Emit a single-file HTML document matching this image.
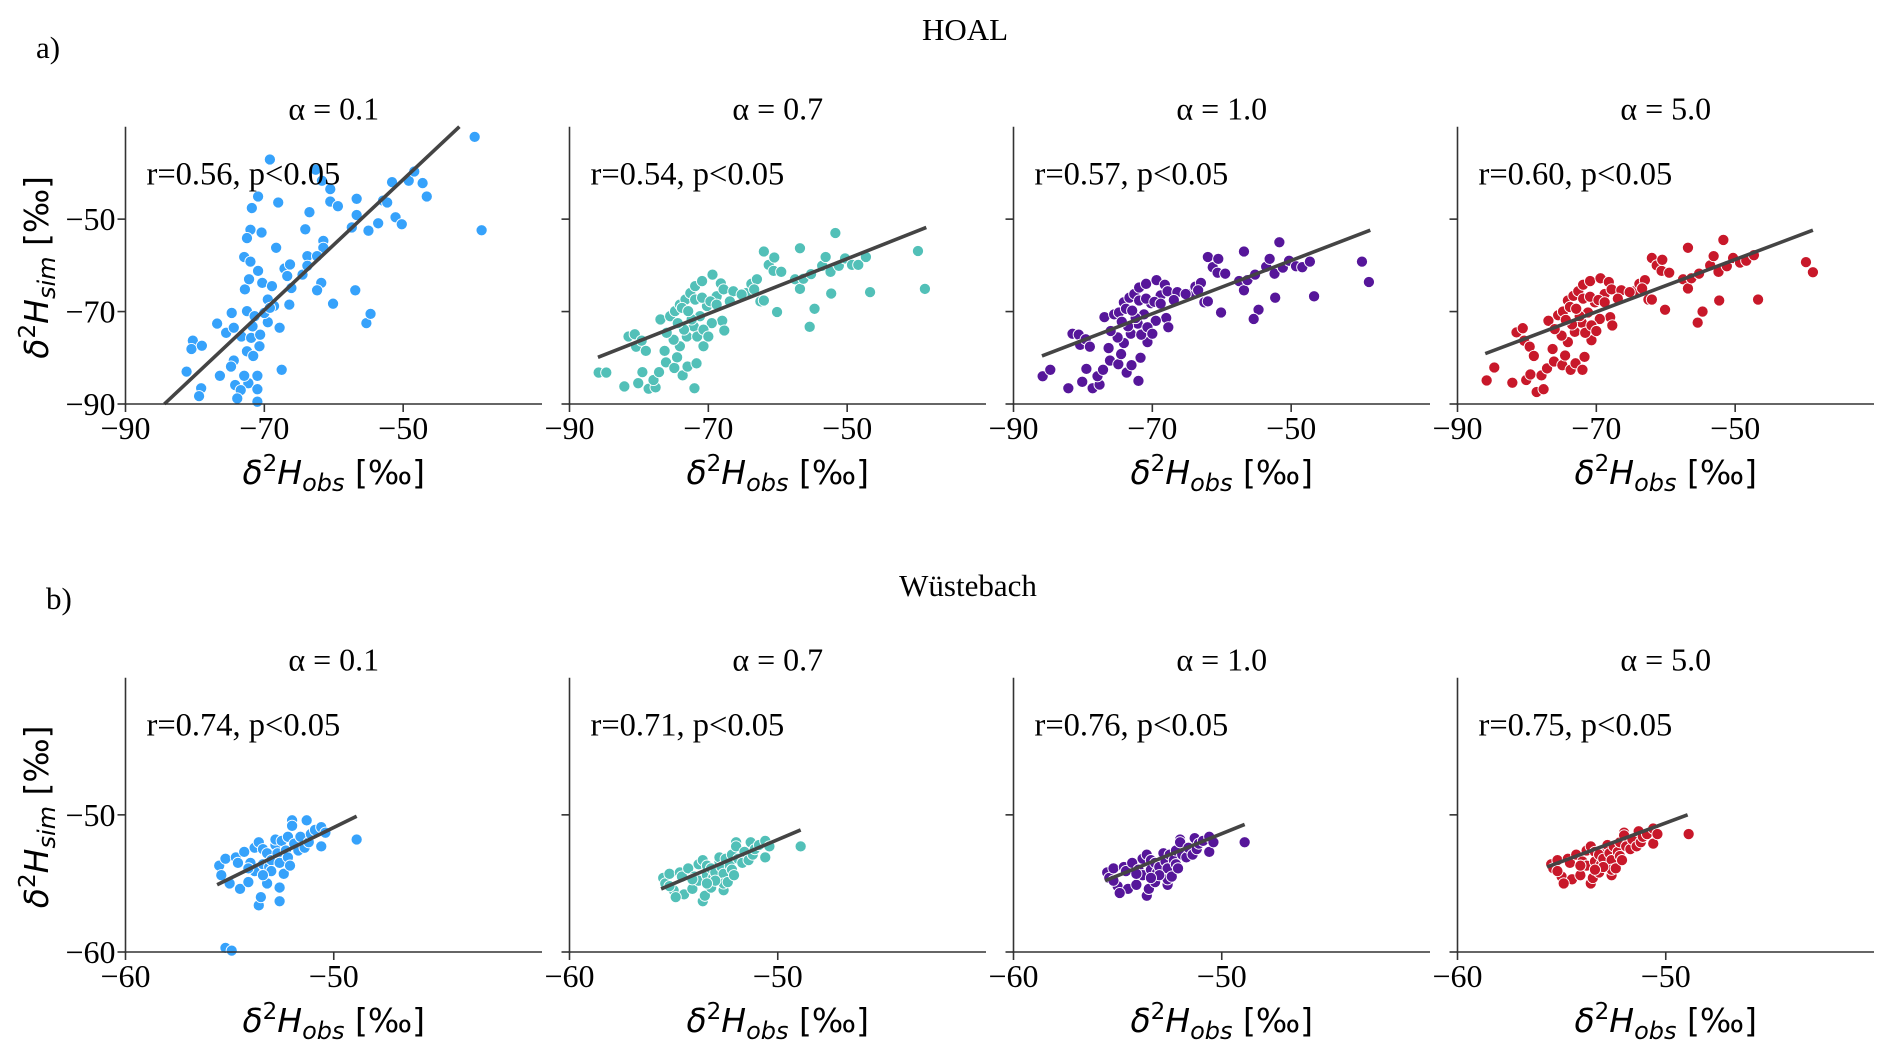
<!DOCTYPE html>
<html><head><meta charset="utf-8">
<style>
html,body{margin:0;padding:0;background:#fff;}
svg{display:block;}
.serif{font-family:"Liberation Serif",serif;fill:#000;}
.dv{font-family:"DejaVu Sans",sans-serif;fill:#000;}
</style></head>
<body>
<svg id="fig" width="1892" height="1053" viewBox="0 0 1892 1053" xmlns="http://www.w3.org/2000/svg">
<text class="serif" x="965" y="40" font-size="31" text-anchor="middle">HOAL</text>
<text class="serif" x="36" y="58" font-size="31">a)</text>
<text class="serif" x="968" y="596" font-size="31" text-anchor="middle">Wüstebach</text>
<text class="serif" x="46" y="609" font-size="31">b)</text>
</svg>
<script>
// ---- HOAL (top row) data ----
const hoalTicks = [-90, -70, -50];
const hoalAlpha = ["α = 0.1", "α = 0.7", "α = 1.0", "α = 5.0"];
const hoalR = ["r=0.56, p<0.05", "r=0.54, p<0.05", "r=0.57, p<0.05", "r=0.60, p<0.05"];
const hoalObs1 = [-39.7,-38.7,-69.2,-62.6,-61.7,-60.5,-70.9,-71.8,-68.0,-60.5,-59.4,-63.5,-64.1,-70.4,-72.0,-72.5,-68.3,-61.5,-61.5,-63.8,-62.4,-72.9,-72.0,-70.9,-67.1,-66.3,-64.5,-63.8,-61.8,-62.4,-60.1,-56.9,-56.7,-56.7,-57.4,-55.0,-53.6,-52.9,-52.3,-51.1,-50.2,-51.6,-49.2,-48.4,-47.2,-46.6,-55.3,-54.7,-67.5,-67.8,-72.5,-72.8,-72.2,-70.3,-69.5,-68.9,-68.6,-74.7,-76.8,-75.5,-74.4,-73.3,-71.9,-70.6,-69.5,-70.7,-72.5,-71.6,-80.3,-80.5,-79.0,-74.4,-74.8,-81.2,-76.4,-74.2,-72.3,-71.0,-73.4,-73.9,-71.0,-79.1,-79.4,-71.0,-72.9,-71.4,-70.0,-71.7,-69.2,-66.4,-66.1,-66.7];
const hoalSim1 = [-32.2,-52.4,-37.1,-39.3,-41.7,-43.5,-45.1,-47.6,-46.4,-46.2,-47.2,-48.5,-52.2,-52.9,-52.3,-54.1,-56.2,-54.7,-56.2,-58.0,-58.0,-58.2,-59.2,-61.2,-60.7,-59.8,-62.0,-60.1,-63.8,-65.4,-68.3,-65.4,-49.1,-45.6,-51.8,-52.5,-50.9,-46.0,-46.4,-49.6,-51.1,-42.0,-41.7,-39.7,-42.2,-45.1,-72.5,-70.5,-82.6,-73.5,-69.9,-65.2,-63.0,-63.8,-67.4,-64.5,-68.8,-70.3,-72.6,-74.6,-73.5,-75.4,-75.7,-75.0,-72.3,-77.5,-78.6,-79.6,-76.3,-78.1,-77.4,-80.6,-81.9,-83.0,-83.9,-85.9,-85.5,-83.9,-87.0,-88.8,-86.8,-86.6,-88.3,-89.5,-83.9,-71.0,-70.3,-73.2,-69.2,-68.5,-64.9,-62.3];
const hoalObs = [-85.8,-84.7,-82.1,-80.1,-79.5,-78.6,-77.6,-77.9,-77.1,-81.5,-80.6,-80.4,-79.6,-79.0,-76.9,-76.3,-76.1,-74.9,-74.5,-73.7,-73.0,-72.0,-71.7,-75.5,-74.8,-74.1,-73.3,-72.6,-71.9,-70.9,-69.4,-68.2,-68.8,-67.8,-66.4,-66.9,-68.0,-67.7,-69.5,-70.2,-71.2,-72.1,-73.1,-74.1,-75.0,-76.0,-70.7,-71.6,-72.4,-73.5,-74.4,-70.7,-70.0,-73.8,-72.9,-71.9,-70.9,-69.7,-68.8,-64.5,-63.8,-63.0,-62.5,-62.0,-62.0,-61.3,-60.6,-60.5,-59.5,-60.1,-57.5,-56.8,-56.8,-56.3,-55.2,-54.7,-55.4,-53.6,-53.1,-52.4,-52.3,-51.7,-51.2,-50.3,-49.3,-48.4,-47.3,-46.7,-39.8,-38.8,-63.4,-65.2];
const hoalSim2 = [-83.2,-83.2,-86.2,-85.5,-83.1,-86.7,-86.4,-84.8,-83.1,-75.4,-74.9,-77.6,-76.3,-78.5,-71.7,-78.5,-81.0,-82.2,-79.9,-83.8,-81.9,-86.6,-81.2,-71.0,-69.9,-68.5,-67.4,-66.0,-64.5,-63.4,-62.0,-63.9,-66.7,-65.2,-65.6,-67.8,-72.0,-74.1,-72.5,-68.8,-71.0,-73.2,-75.4,-77.5,-76.1,-74.6,-77.5,-75.4,-71.7,-73.9,-72.5,-73.9,-75.4,-69.2,-69.9,-67.4,-67.0,-67.8,-68.5,-66.0,-64.0,-63.0,-67.8,-67.6,-57.0,-59.9,-61.2,-58.3,-61.4,-70.1,-63.0,-56.3,-65.1,-62.9,-61.9,-69.4,-73.3,-60.1,-58.2,-61.4,-66.1,-53.0,-60.1,-58.5,-59.9,-59.9,-58.2,-65.8,-56.9,-65.1,-65.2,-66.3];
const hoalSim3 = [-84.0,-82.6,-86.6,-85.2,-82.4,-86.6,-85.8,-84.0,-82.6,-74.8,-75.0,-77.2,-76.0,-77.6,-71.2,-77.9,-80.6,-81.4,-79.2,-83.2,-81.6,-85.0,-80.0,-70.6,-70.2,-68.0,-67.0,-66.2,-64.8,-64.0,-63.2,-64.2,-66.5,-65.6,-65.8,-67.5,-71.4,-73.4,-72.0,-68.2,-70.6,-72.6,-74.8,-76.8,-75.6,-74.2,-76.6,-75.0,-71.4,-73.2,-72.2,-73.4,-74.8,-69.4,-69.8,-67.6,-67.2,-67.9,-68.3,-66.2,-64.6,-63.8,-68.0,-67.8,-58.2,-60.4,-61.6,-58.6,-61.8,-70.2,-63.4,-57.0,-65.4,-63.2,-62.0,-69.6,-71.6,-60.3,-58.6,-61.8,-67.0,-55.0,-60.5,-59.0,-60.2,-60.4,-59.2,-66.7,-59.2,-63.6,-65.4,-66.2];
const hoalSim4 = [-84.9,-82.1,-85.4,-84.8,-83.6,-87.4,-86.8,-83.8,-82.3,-74.5,-73.6,-76.3,-77.6,-79.6,-72.0,-78.1,-80.8,-81.6,-79.5,-82.6,-81.2,-82.6,-79.8,-70.8,-70.0,-67.6,-66.6,-65.6,-64.2,-63.4,-62.8,-63.6,-66.2,-65.2,-65.4,-67.2,-71.2,-73.0,-71.6,-68.0,-70.2,-72.4,-74.4,-76.6,-75.2,-73.8,-76.2,-74.6,-71.0,-72.8,-71.8,-73.0,-74.2,-69.0,-69.4,-67.2,-66.8,-67.5,-68.0,-65.6,-64.0,-63.2,-67.4,-67.4,-58.4,-60.0,-61.2,-58.8,-61.6,-69.6,-63.0,-56.2,-65.0,-62.8,-61.8,-70.0,-72.4,-60.0,-58.0,-61.4,-67.6,-54.5,-60.2,-58.4,-59.4,-59.0,-57.8,-67.4,-59.3,-61.5,-65.0,-65.8];
const hoalFit = [[-84.4,-90.0,-41.9,-30.0],[-85.9,-79.9,-38.6,-51.8],[-85.9,-79.6,-38.6,-52.4],[-86.0,-79.1,-38.8,-52.4]];

// ---- Wüstebach (bottom row) data ----
const wueTicks = [-60, -50];
const wueR = ["r=0.74, p<0.05", "r=0.71, p<0.05", "r=0.76, p<0.05", "r=0.75, p<0.05"];
const wueObs = [-55.5,-55.4,-55.2,-55.0,-54.7,-54.6,-54.5,-54.3,-54.1,-54.0,-53.8,-53.8,-53.6,-53.6,-53.5,-53.4,-53.4,-53.2,-53.2,-53.1,-53.0,-52.8,-52.8,-52.7,-52.6,-52.6,-52.6,-52.5,-52.4,-52.3,-52.2,-52.2,-52.0,-52.0,-51.9,-51.7,-51.6,-51.4,-51.3,-51.2,-51.1,-50.9,-50.6,-50.6,-50.4,-48.9,-55.2,-54.9,-54.1,-53.0,-53.4,-52.1];
const wueSim1 = [-53.7,-54.4,-53.2,-55.0,-53.1,-53.5,-55.4,-52.7,-54.9,-53.5,-54.1,-52.4,-52.0,-56.6,-56.0,-52.5,-53.6,-55.0,-52.8,-53.8,-53.3,-52.2,-51.8,-52.8,-53.5,-55.3,-56.3,-51.9,-54.3,-52.6,-51.6,-53.1,-50.4,-50.8,-52.1,-52.6,-51.6,-52.4,-50.4,-52.0,-51.4,-51.1,-50.9,-52.3,-51.3,-51.8,-59.7,-59.9,-53.9,-54.1,-54.4,-53.7];
const wueSim2 = [-54.6,-55.0,-54.3,-55.5,-54.2,-54.5,-55.8,-53.9,-55.4,-54.5,-54.8,-53.6,-53.3,-56.3,-55.9,-53.7,-54.4,-55.3,-53.9,-54.6,-54.2,-53.4,-53.1,-53.8,-54.3,-55.5,-55.0,-53.2,-54.9,-53.7,-52.9,-54.0,-52.0,-52.3,-53.2,-53.5,-52.7,-53.3,-52.0,-52.9,-52.5,-52.2,-51.9,-53.1,-52.3,-52.3,-55.2,-56.0,-54.7,-54.8,-55.0,-54.4];
const wueSim3 = [-54.2,-54.6,-53.9,-55.2,-53.8,-54.1,-55.4,-53.5,-55.1,-54.0,-54.4,-53.2,-52.9,-55.9,-55.4,-53.3,-54.0,-54.9,-53.5,-54.2,-53.8,-53.0,-52.8,-53.4,-53.9,-55.1,-54.7,-52.9,-54.5,-53.3,-52.6,-53.6,-51.8,-52.0,-52.9,-53.1,-52.4,-52.9,-51.7,-52.5,-52.1,-51.9,-51.6,-52.7,-52.0,-52.0,-54.8,-55.7,-54.3,-54.4,-54.6,-53.9];
const wueSim4 = [-53.6,-53.9,-53.3,-54.5,-53.2,-53.5,-54.7,-52.9,-54.4,-53.4,-53.7,-52.6,-52.3,-55.0,-54.6,-52.7,-53.4,-54.2,-52.9,-53.6,-53.2,-52.4,-52.2,-52.8,-53.3,-54.4,-54.0,-52.3,-53.9,-52.7,-52.0,-53.0,-51.3,-51.5,-52.3,-52.5,-51.8,-52.3,-51.2,-52.0,-51.6,-51.4,-51.0,-52.1,-51.4,-51.4,-54.1,-55.0,-53.7,-53.8,-54.0,-53.3];
const wueFit = [[-55.6,-55.1,-48.9,-50.1],[-55.6,-55.4,-48.9,-51.1],[-55.6,-54.8,-48.9,-50.7],[-55.7,-53.8,-48.95,-50.0]];

const colors = ["#36a2fb", "#52c0b8", "#56169a", "#c8182a"];
const NS = "http://www.w3.org/2000/svg";
const svg = document.getElementById("fig");
function mk(tag, attrs, parent) {
  const e = document.createElementNS(NS, tag);
  for (const k in attrs) e.setAttribute(k, attrs[k]);
  (parent || svg).appendChild(e);
  return e;
}
const panelX = [125.5, 569.5, 1013.5, 1457.5];
const PW = 416.5;

function drawPanel(row, i, cfg) {
  const g = mk("g", {});
  
  
  const x0 = panelX[i], x1 = x0 + PW, yT = cfg.top, yB = cfg.bottom;
  const sx = v => x0 + (v - cfg.xmin) / (cfg.xmax - cfg.xmin) * PW;
  const sy = v => yB - (v - cfg.ymin) / (cfg.ymax - cfg.ymin) * (yB - yT);
  const obs = cfg.obs[i], sim = cfg.sim[i];
  const n = Math.min(obs.length, sim.length);
  for (let k = 0; k < n; k++) {
    const c = mk("circle", {cx: sx(obs[k]), cy: sy(sim[k]), r: 5.6, fill: colors[i], stroke: "#fff", "stroke-width": 0.9}, g);
    
    
  }
  const f = cfg.fit[i];
  const ln = mk("line", {x1: sx(f[0]), y1: sy(f[1]), x2: sx(f[2]), y2: sy(f[3]), stroke: "#444", "stroke-width": 3.6}, g);
  
  
  const sp1 = mk("line", {x1: x0, y1: yT, x2: x0, y2: yB + 1, stroke: "#333", "stroke-width": 1.6}, g);
  
  
  const sp2 = mk("line", {x1: x0 - 1, y1: yB, x2: x1, y2: yB, stroke: "#333", "stroke-width": 1.6}, g);
  
  
  cfg.ticks.forEach(t => {
    mk("line", {x1: sx(t), y1: yB, x2: sx(t), y2: yB + 8, stroke: "#333", "stroke-width": 1.6}, g);
    const tl = mk("text", {x: sx(t), y: yB + 35, "font-size": 32, "text-anchor": "middle", class: "serif"}, g);
    tl.textContent = "\u2212" + Math.abs(t);
    
    
    mk("line", {x1: x0 - 8, y1: sy(t), x2: x0, y2: sy(t), stroke: "#333", "stroke-width": 1.6}, g);
    if (i === 0) {
      const yl = mk("text", {x: x0 - 10, y: sy(t) + 11, "font-size": 32, "text-anchor": "end", class: "serif"}, g);
      yl.textContent = "\u2212" + Math.abs(t);
      
      
    }
  });
  const tt = mk("text", {x: x0 + PW / 2, y: yT - 7, "font-size": 32, "text-anchor": "middle", class: "serif"}, g);
  tt.textContent = hoalAlpha[i];
  
  
  const rt = mk("text", {x: x0 + 21, y: yT + 58, "font-size": 32.5, class: "serif"}, g);
  rt.textContent = cfg.r[i];
  
  
  const xl = mk("text", {x: x0 + PW / 2, y: yB + 80, "font-size": 33, "text-anchor": "middle", class: "dv"}, g);
  xl.innerHTML = '<tspan font-style="italic">δ</tspan><tspan font-size="23" dy="-13">2</tspan><tspan font-style="italic" dy="13">H</tspan><tspan font-style="italic" font-size="24" dy="7">obs</tspan><tspan dy="-7"> [‰]</tspan>';
  
  
  if (i === 0) {
    const cy = (yT + yB) / 2;
    const yt = mk("text", {x: 0, y: 0, "font-size": 33, "text-anchor": "middle", class: "dv", transform: "translate(48," + (cy + 2) + ") rotate(-90)"}, g);
    yt.innerHTML = '<tspan font-style="italic">δ</tspan><tspan font-size="23" dy="-13">2</tspan><tspan font-style="italic" dy="13">H</tspan><tspan font-style="italic" font-size="24" dy="7">sim</tspan><tspan dy="-7">  [‰]</tspan>';
    
    
  }
}

const hoalCfg = {prefix: "hoal", top: 126.7, bottom: 404, xmin: -90, xmax: -30, ymin: -90, ymax: -30,
  ticks: hoalTicks, r: hoalR, obs: [hoalObs1, hoalObs, hoalObs, hoalObs],
  sim: [hoalSim1, hoalSim2, hoalSim3, hoalSim4], fit: hoalFit};
const wueCfg = {prefix: "wuestebach", top: 677.7, bottom: 952, xmin: -60, xmax: -40, ymin: -60, ymax: -40,
  ticks: wueTicks, r: wueR, obs: [wueObs, wueObs, wueObs, wueObs],
  sim: [wueSim1, wueSim2, wueSim3, wueSim4], fit: wueFit};
for (let i = 0; i < 4; i++) { drawPanel(0, i, hoalCfg); drawPanel(1, i, wueCfg); }
</script>
</body></html>
